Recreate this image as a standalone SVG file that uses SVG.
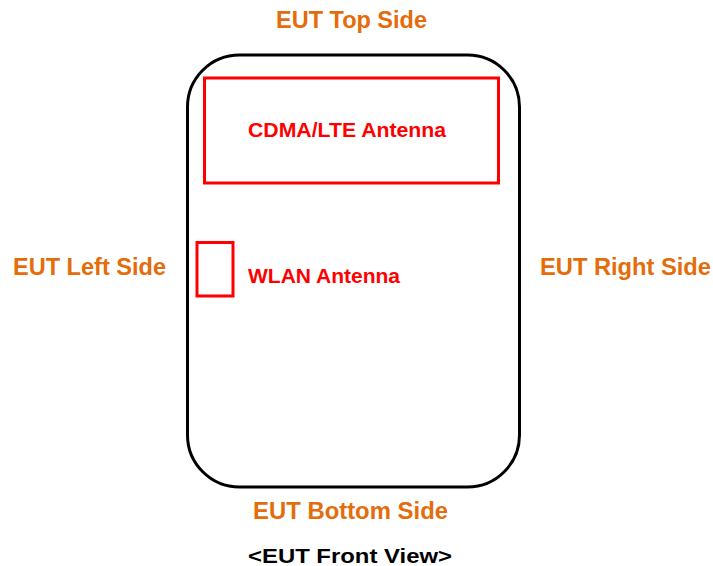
<svg xmlns="http://www.w3.org/2000/svg" width="713" height="566" viewBox="0 0 713 566">
<style>
.side{font-family:"Liberation Sans",Arial,sans-serif;font-weight:bold;font-size:23.5px;fill:#E46C0A}
.ant{font-family:"Liberation Sans",Arial,sans-serif;font-weight:bold;font-size:21px;fill:#FF0000}
.cap{font-family:"Liberation Sans",Arial,sans-serif;font-weight:bold;font-size:21px;fill:#000}
.box{fill:none;stroke:#FF0000;stroke-width:3}
</style>
<rect width="713" height="566" fill="#fff"/>
<g id="eut">
<rect x="187.5" y="55" width="332" height="432" rx="52" ry="52" fill="none" stroke="#000" stroke-width="3"/>
</g>
<g id="cdma">
<rect class="box" x="204.5" y="78" width="294" height="105"/>
<text class="ant" x="248" y="137" textLength="198" lengthAdjust="spacingAndGlyphs">CDMA/LTE Antenna</text>
</g>
<g id="wlan">
<rect class="box" x="197" y="242.5" width="36" height="53.5"/>
<text class="ant" x="248" y="283" textLength="152" lengthAdjust="spacingAndGlyphs">WLAN Antenna</text>
</g>
<g id="labels">
<text class="side" x="276" y="28" textLength="151" lengthAdjust="spacingAndGlyphs">EUT Top Side</text>
<text class="side" x="13" y="275" textLength="153" lengthAdjust="spacingAndGlyphs">EUT Left Side</text>
<text class="side" x="540" y="275" textLength="171" lengthAdjust="spacingAndGlyphs">EUT Right Side</text>
<text class="side" x="253" y="519" textLength="195" lengthAdjust="spacingAndGlyphs">EUT Bottom Side</text>
<text class="cap" x="248" y="563" textLength="204" lengthAdjust="spacingAndGlyphs">&lt;EUT Front View&gt;</text>
</g>
<g id="connectors"/>
</svg>
